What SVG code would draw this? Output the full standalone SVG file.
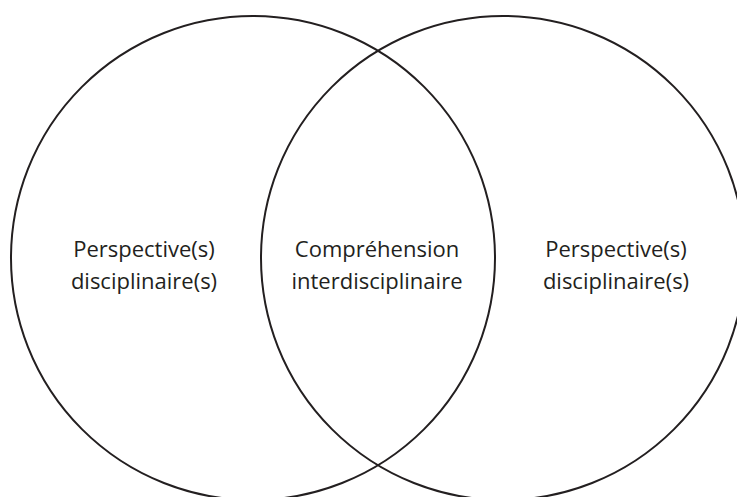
<svg xmlns="http://www.w3.org/2000/svg" width="737" height="497" viewBox="0 0 737 497">
<style>
.c{fill:none;stroke:#231f20;stroke-width:2}
.t{font-family:"Open Sans","Noto Sans",sans-serif;font-size:22px;fill:#231f20;text-anchor:middle}
</style>
<rect width="737" height="497" fill="#fff"/>
<g id="left-circle"><circle class="c" cx="253" cy="258" r="242"/>
<text class="t" x="144" y="257">Perspective(s)</text><text class="t" x="144" y="289">disciplinaire(s)</text></g>
<g id="right-circle"><circle class="c" cx="503" cy="258" r="242"/>
<text class="t" x="616" y="257">Perspective(s)</text><text class="t" x="616" y="289">disciplinaire(s)</text></g>
<g id="intersection"><text class="t" x="377" y="257">Compréhension</text><text class="t" x="377" y="289">interdisciplinaire</text></g>
<g id="connectors"></g>
</svg>
